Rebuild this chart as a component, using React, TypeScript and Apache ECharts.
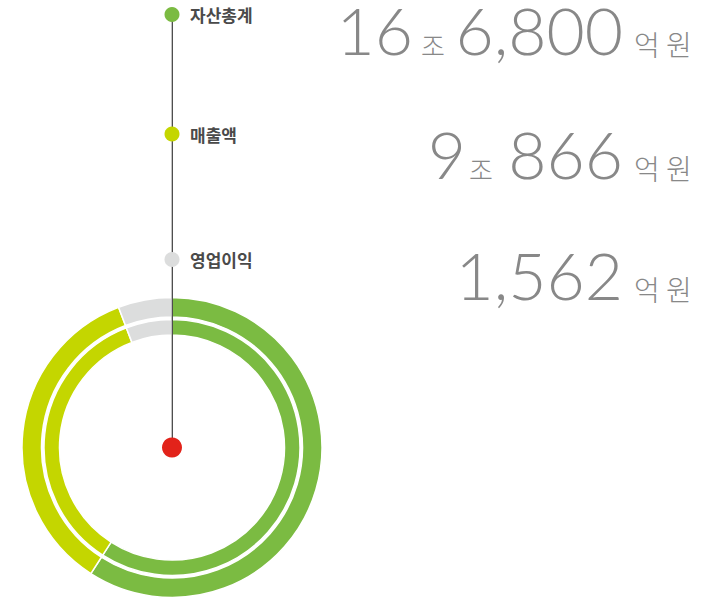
import React, { useEffect, useRef } from 'react';
import * as echarts from 'echarts';

// ---- data ----
const categories = ['자산총계', '매출액', '영업이익'];
const ringShares = [59.1, 35.1, 5.8]; // share of the ring (percent)
const trillionParts = ['16', '9', ''];
const hundredMillionParts = ['6,800', '866', '1,562'];
const trillionUnit = '조';
const hundredMillionUnit = '억 원';
const palette = ['#7bbb42', '#c4d600', '#dcdddd'];

export default function App() {
  const ref = useRef<HTMLDivElement>(null);

  useEffect(() => {
    if (!ref.current) return;
    const chart = echarts.init(ref.current, null, { renderer: 'svg' });

    const cx = 172;
    const cy = 447.5;
    const legendY = [14.5, 134, 259.5];
    const digitY = [29.5, 153.5, 274.5];
    const unitY = [44, 168, 288.5];
    const trillionRight = [413, 466, 0];
    const trillionUnitLeft = [421, 469, 0];
    const numberRight = 623;
    const unitLeft = 634;

    const numFont = 'Lato, "Noto Sans", sans-serif';
    const krFont = '"Noto Sans CJK KR", "Noto Sans", sans-serif';
    const textColor = '#888888';

    const graphics: any[] = [];

    // vertical stem
    graphics.push({
      type: 'line',
      z: 10,
      shape: { x1: cx + 0.3, y1: legendY[0], x2: cx + 0.3, y2: cy },
      style: { stroke: '#3a3a3a', lineWidth: 1.2 },
    });

    categories.forEach((name, i) => {
      graphics.push({
        type: 'circle',
        z: 11,
        shape: { cx, cy: legendY[i], r: 7.5 },
        style: { fill: palette[i] },
      });
      graphics.push({
        type: 'text',
        z: 11,
        x: 190,
        y: legendY[i],
        style: {
          text: name,
          fill: '#4a4a4a',
          font: `bold 17px ${krFont}`,
          textAlign: 'left',
          textVerticalAlign: 'middle',
        },
      });

      if (trillionParts[i]) {
        graphics.push({
          type: 'text',
          x: trillionRight[i],
          y: digitY[i],
          style: {
            text: trillionParts[i],
            fill: textColor,
            font: `300 66px ${numFont}`,
            lineHeight: 52,
            textAlign: 'right',
            textVerticalAlign: 'middle',
          },
        });
        graphics.push({
          type: 'text',
          x: trillionUnitLeft[i],
          y: unitY[i],
          style: {
            text: trillionUnit,
            fill: textColor,
            font: `300 26px ${krFont}`,
            textAlign: 'left',
            textVerticalAlign: 'middle',
          },
        });
      }
      graphics.push({
        type: 'text',
        x: numberRight,
        y: digitY[i],
        style: {
          text: hundredMillionParts[i],
          fill: textColor,
          font: `300 66px ${numFont}`,
          lineHeight: 52,
          textAlign: 'right',
          textVerticalAlign: 'middle',
        },
      });
      graphics.push({
        type: 'text',
        x: unitLeft,
        y: unitY[i],
        style: {
          text: hundredMillionUnit,
          fill: textColor,
          font: `300 28px ${krFont}`,
          textAlign: 'left',
          textVerticalAlign: 'middle',
        },
      });
    });

    // red center dot
    graphics.push({
      type: 'circle',
      z: 12,
      shape: { cx, cy, r: 10 },
      style: { fill: '#e2231a' },
    });

    const ringData = categories.map((name, i) => ({
      name,
      value: ringShares[i],
      itemStyle: { color: palette[i] },
    }));

    const ringSeries = (radius: number[]) => ({
      type: 'pie',
      center: [cx, cy],
      radius,
      startAngle: 90,
      clockwise: true,
      silent: true,
      label: { show: false },
      labelLine: { show: false },
      itemStyle: { borderColor: '#ffffff', borderWidth: 1.5 },
      emphasis: { disabled: true },
      data: ringData,
    });

    chart.setOption({
      animation: false,
      backgroundColor: '#ffffff',
      series: [ringSeries([130.5, 150]), ringSeries([112.5, 128])],
      graphic: graphics,
    });

    return () => chart.dispose();
  }, []);

  return (
    <div
      ref={ref}
      style={{ position: 'fixed', left: 0, top: 0, width: 719, height: 599 }}
    />
  );
}
